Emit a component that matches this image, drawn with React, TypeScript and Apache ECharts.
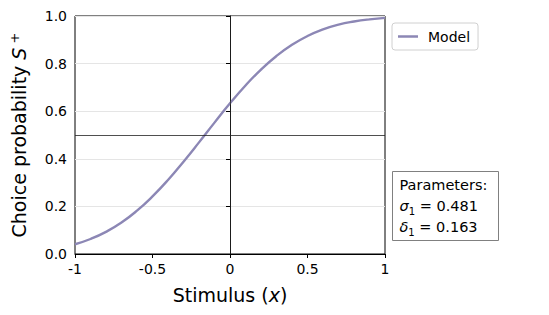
import React, { useEffect, useRef } from "react";
import * as echarts from "echarts";

// Stimulus values (x) and read-off model choice probabilities
const stimulus = [-1, -0.9, -0.8, -0.7, -0.6, -0.5, -0.4, -0.3, -0.2, -0.1, 0, 0.1, 0.2, 0.3, 0.4, 0.5, 0.6, 0.7, 0.8, 0.9, 1];
const modelProb = [0.041, 0.063, 0.093, 0.132, 0.182, 0.242, 0.311, 0.388, 0.469, 0.552, 0.633, 0.708, 0.775, 0.832, 0.879, 0.916, 0.944, 0.964, 0.977, 0.986, 0.992];

const xTickLabels: Record<string, string> = { "-1": "-1", "-0.5": "-0.5", "0": "0", "0.5": "0.5", "1": "1" };
const yTickLabels = ["0.0", "0.2", "0.4", "0.6", "0.8", "1.0"];

const seriesName = "Model";
const sigma = "0.481";
const delta = "0.163";

const FONT = "DejaVu Sans";
const LINE_COLOR = "#8c87b5";

export default function App() {
  const ref = useRef<HTMLDivElement>(null);
  useEffect(() => {
    if (!ref.current) return;
    const chart = echarts.init(ref.current, undefined, { renderer: "svg" });
    const data = stimulus.map((x, i) => [x, modelProb[i]]);
    chart.setOption({
      animation: false,
      backgroundColor: "#fff",
      textStyle: { fontFamily: FONT },
      grid: {
        left: 75, top: 16, width: 310, height: 238,
        show: true, borderColor: "#000", borderWidth: 1, backgroundColor: "transparent",
      },
      legend: {
        show: true,
        left: 392, top: 23,
        padding: [6, 8, 6, 6],
        itemWidth: 20, itemHeight: 2.5,
        borderColor: "#d0d0d0", borderWidth: 1, borderRadius: 3,
        textStyle: { fontFamily: FONT, fontSize: 14, color: "#000", padding: [0, 0, 0, 5], lineHeight: 15 },
        data: [{ name: seriesName, icon: "rect", itemStyle: { color: LINE_COLOR } }],
      },
      xAxis: {
        type: "value", min: -1, max: 1, interval: 0.5,
        name: "Stimulus ({i|x})",
        nameLocation: "middle", nameGap: 31,
        nameTextStyle: {
          fontFamily: FONT, fontSize: 19, color: "#000",
          rich: { i: { fontFamily: FONT, fontSize: 19, fontStyle: "italic", color: "#000" } },
        },
        axisLine: { show: true, lineStyle: { color: "#000", width: 1 } },
        axisTick: { show: true, length: 4, lineStyle: { color: "#000" } },
        axisLabel: {
          fontFamily: FONT, fontSize: 14, color: "#000", margin: 8,
          showMinLabel: true, showMaxLabel: true,
          formatter: (v: number) => xTickLabels[String(v)] ?? String(v),
        },
        splitLine: { show: false },
      },
      yAxis: {
        type: "value", min: 0, max: 1, interval: 0.2,
        name: "Choice probability {i|S}{sup| +}",
        nameLocation: "middle", nameGap: 45, nameRotate: 90,
        nameTextStyle: {
          fontFamily: FONT, fontSize: 19, color: "#000",
          rich: {
            i: { fontFamily: FONT, fontSize: 19, fontStyle: "italic", color: "#000" },
            sup: { fontFamily: FONT, fontSize: 13, color: "#000", verticalAlign: "top", padding: [0, 0, 9, 0] },
          },
        },
        axisLine: { show: true, lineStyle: { color: "#000", width: 1 } },
        axisTick: { show: true, length: 4, lineStyle: { color: "#000" } },
        axisLabel: {
          fontFamily: FONT, fontSize: 14, color: "#000", margin: 8,
          formatter: (v: number) => yTickLabels[Math.round(v / 0.2)] ?? String(v),
        },
        splitLine: { show: true, lineStyle: { color: "#e5e5e5", width: 1 } },
      },
      series: [
        {
          name: seriesName,
          type: "line",
          data,
          smooth: true,
          showSymbol: false,
          symbol: "none",
          lineStyle: { color: LINE_COLOR, width: 2.4 },
          itemStyle: { color: LINE_COLOR },
          markLine: {
            silent: true,
            symbol: ["none", "none"],
            label: { show: false },
            lineStyle: { color: "#222", width: 0.8, type: "solid" },
            data: [{ yAxis: 0.5 }, { xAxis: 0 }],
          },
          z: 3,
        },
      ],
      graphic: [
        {
          type: "group",
          left: 392, top: 171,
          children: [
            {
              type: "rect",
              shape: { x: 0, y: 0, width: 106, height: 69 },
              style: { fill: "#fff", stroke: "#808080", lineWidth: 1 },
            },
            {
              type: "text",
              x: 7, y: 3,
              style: {
                text: `Parameters:\n{i|σ}{sub|1} = ${sigma}\n{i|δ}{sub|1} = ${delta}`,
                fontFamily: FONT, fontSize: 14.5, fill: "#000", lineHeight: 21,
                rich: {
                  i: { fontFamily: FONT, fontSize: 14.5, fontStyle: "italic", fill: "#000", lineHeight: 21 },
                  sub: { fontFamily: FONT, fontSize: 10, fill: "#000", verticalAlign: "bottom", lineHeight: 21, padding: [6, 0, 0, 0] },
                },
              },
            },
          ],
        },
      ],
    });
    return () => chart.dispose();
  }, []);
  return <div ref={ref} style={{ position: "fixed", left: 0, top: 0, width: 549, height: 315 }} />;
}
